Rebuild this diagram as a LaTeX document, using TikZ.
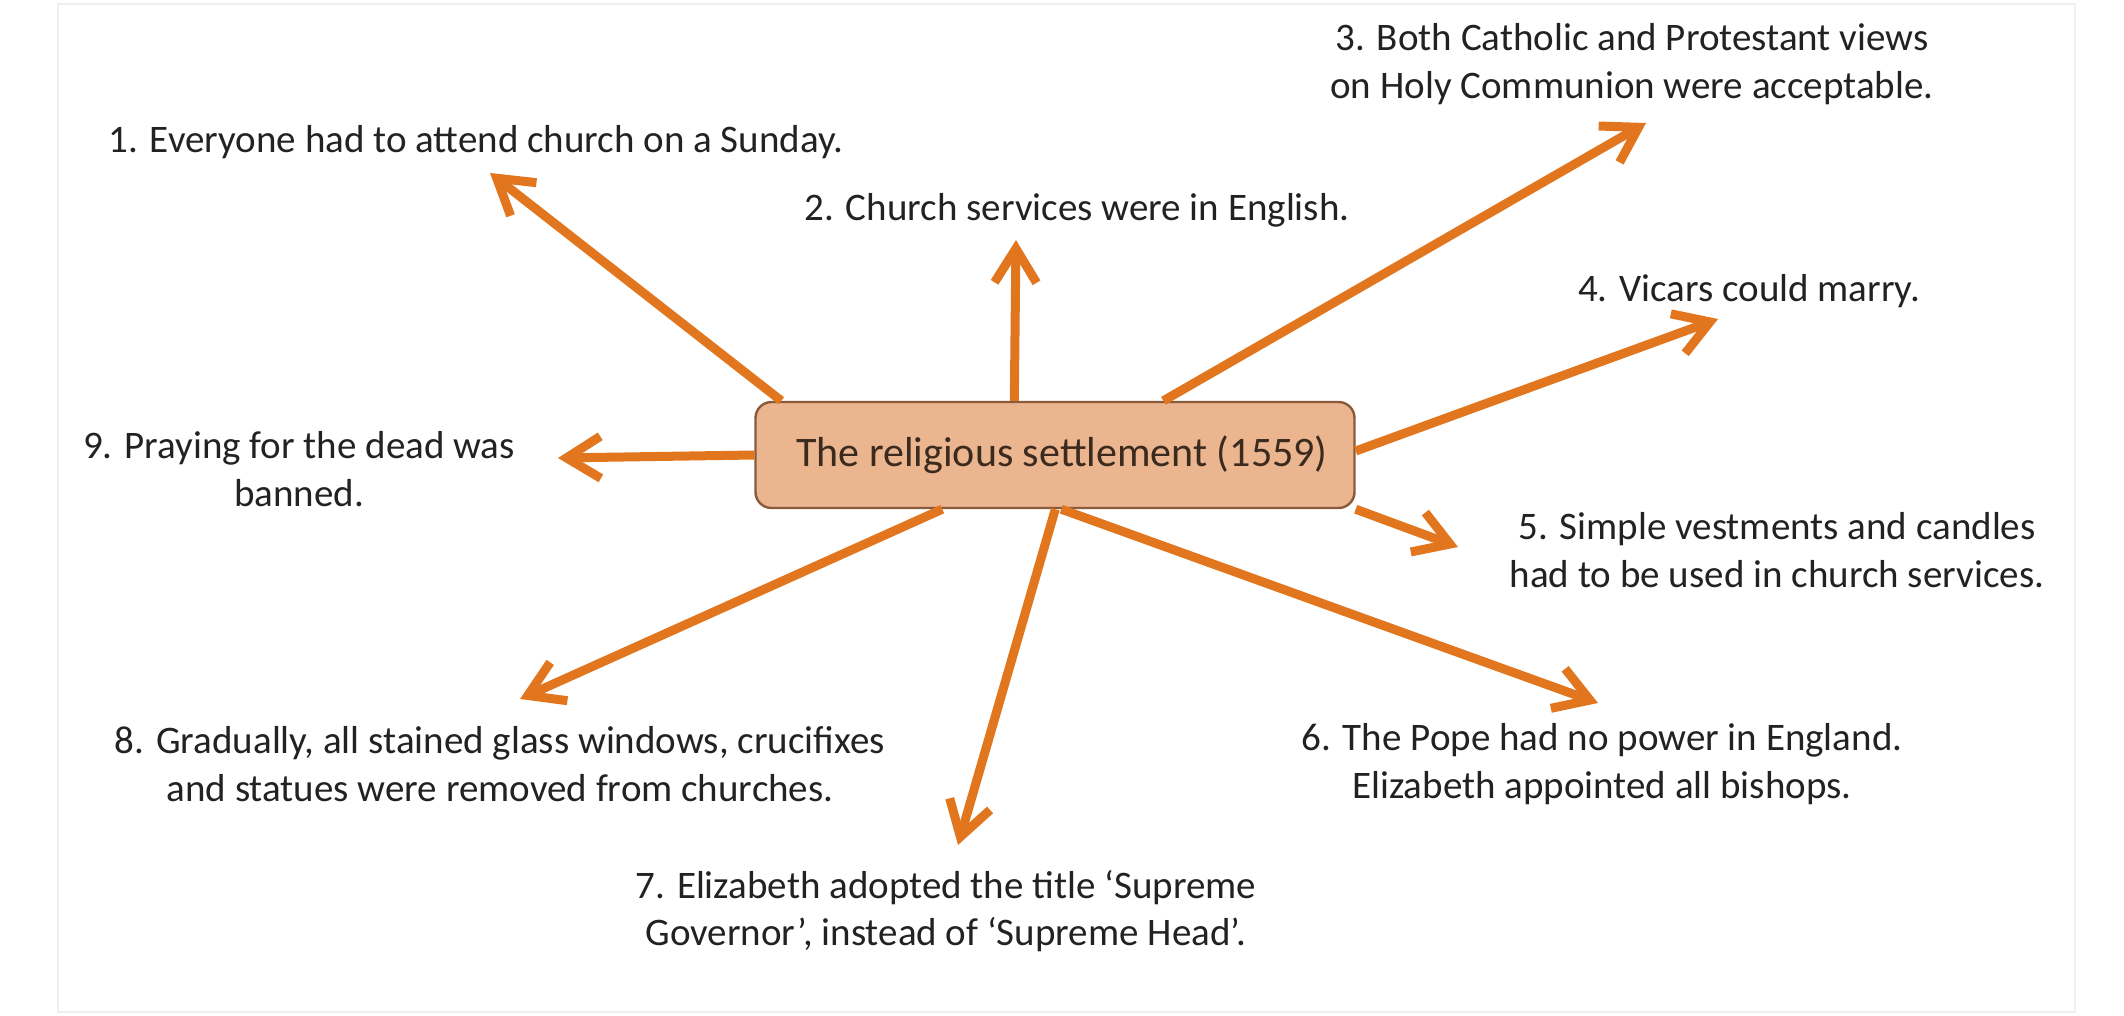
\documentclass[tikz,border=0pt]{standalone}
\usepackage{fontspec}
\setmainfont{Carlito}
\usetikzlibrary{arrows.meta,calc}
\definecolor{arr}{HTML}{E2761F}
\definecolor{boxfill}{HTML}{EBB58F}
\definecolor{boxline}{HTML}{8A5A3A}
\definecolor{txt}{HTML}{222222}
\definecolor{boxtxt}{HTML}{3B2A1E}
\tikzset{
  lbl/.style={align=center, text=txt, font=\fontsize{19.5pt}{23.7pt}\selectfont, inner sep=0pt},
  hub/.style={draw=boxline, line width=1.2pt, fill=boxfill, rounded corners=8pt,
    minimum width=299.5pt, minimum height=53pt, text=boxtxt,
    font=\fontsize{21pt}{25pt}\selectfont},
  spoke/.style={draw=arr, line width=4.5pt, -{Straight Barb[length=17pt,width=21pt]}}
}
\begin{document}
\begin{tikzpicture}[x=0.5pt,y=-0.5pt]
\useasboundingbox (0,0) rectangle (2124,1016);
\fill[white] (0,0) rectangle (2124,1016);
\draw[black!6, line width=1pt] (58,4) rectangle (2075,1012);

\node[hub] (c) at (1055,455) {\hspace*{7pt}The religious settlement (1559)};

\node[lbl] (t1) at (476,142) {1. Everyone had to attend church on a Sunday.};
\node[lbl] (t2) at (1077,210) {2. Church services were in English.};
\node[lbl] (t3) at (1632,64) {3. Both Catholic and Protestant views\\on Holy Communion were acceptable.};
\node[lbl] (t4) at (1749,291) {4. Vicars could marry.};
\node[lbl] (t5) at (1777,550) {5. Simple vestments and candles\\had to be used in church services.};
\node[lbl] (t6) at (1602,764) {6. The Pope had no power in England.\\Elizabeth appointed all bishops.};
\node[lbl] (t7) at (946,911) {7. Elizabeth adopted the title ‘Supreme\\Governor’, instead of ‘Supreme Head’.};
\node[lbl] (t8) at (500,764) {8. Gradually, all stained glass windows, crucifixes\\and statues were removed from churches.};
\node[lbl] (t9) at (299,469) {9. Praying for the dead was\\banned.};

\coordinate (e1) at (490,173);
\coordinate (e2) at (1016,240);
\coordinate (e3) at (1646,123);
\coordinate (e4) at (1718,319);
\coordinate (e5) at (1458,547);
\coordinate (e6) at (1598,703);
\coordinate (e7) at (958,845);
\coordinate (e8) at (520,699);
\coordinate (e9) at (558,458);

\draw[spoke] ($(c.north west)+(27,0)$) -- (e1);
\draw[spoke] ($(c.north west)+(260,0)$) -- (e2);
\draw[spoke] ($(c.north west)+(409,0)$) -- (e3);
\draw[spoke] ($(c.east)+(0,-4)$) -- (e4);
\draw[spoke] ($(c.south east)+(0,0)$) -- (e5);
\draw[spoke] ($(c.south west)+(307,0)$) -- (e6);
\draw[spoke] ($(c.south west)+(301,0)$) -- (e7);
\draw[spoke] ($(c.south west)+(188,0)$) -- (e8);
\draw[spoke] (c.west) -- (e9);
\end{tikzpicture}
\end{document}
